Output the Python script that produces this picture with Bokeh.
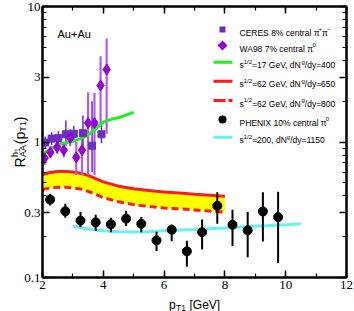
import math
from bokeh.plotting import figure
from bokeh.models import (Range1d, LinearAxis, LogAxis, FixedTicker, SingleIntervalTicker,
                          Label, BoxAnnotation, PolyAnnotation, CustomLabelingPolicy)
from bokeh.core.properties import value
from bokeh.embed import file_html
from bokeh.resources import INLINE

# ---------------- data ----------------
phenix_x = [2.25, 2.75, 3.25, 3.75, 4.25, 4.75, 5.25, 5.75, 6.25, 6.75, 7.25, 7.75, 8.25, 8.75, 9.25, 9.75]
phenix_y = [0.376, 0.308, 0.263, 0.255, 0.247, 0.272, 0.249, 0.188, 0.225, 0.156, 0.216, 0.338, 0.245, 0.223, 0.307, 0.279]
phenix_lo = [0.34, 0.276, 0.235, 0.22, 0.216, 0.24, 0.216, 0.157, 0.185, 0.12, 0.161, 0.249, 0.171, 0.141, 0.184, 0.128]
phenix_hi = [0.415, 0.35, 0.304, 0.29, 0.276, 0.309, 0.28, 0.218, 0.246, 0.187, 0.268, 0.426, 0.316, 0.304, 0.426, 0.43]

ceres_x = [2.09, 2.30, 2.52, 2.77, 3.03, 3.33, 3.63, 3.94]
ceres_y = [0.99, 1.06, 1.07, 1.14, 1.15, 1.16, 0.94, 1.14]
ceres_lo = [0.90, 0.95, 0.95, 0.94, 1.00, 0.90, 0.60, 0.98]
ceres_hi = [1.10, 1.18, 1.20, 1.44, 1.32, 1.57, 2.00, 1.32]

wa98_x = [2.07, 2.26, 2.48, 2.70, 2.91, 3.11, 3.30, 3.50, 3.71, 3.91, 4.11]
wa98_y = [0.76, 0.84, 0.915, 0.87, 1.07, 0.77, 0.87, 1.38, 1.38, 2.61, 3.43]
wa98_lo = [0.68, 0.76, 0.82, 0.77, 0.93, 0.57, 0.57, 0.57, 0.57, 1.30, 1.15]
wa98_hi = [0.85, 0.93, 1.02, 0.98, 1.24, 1.00, 1.25, 2.33, 2.30, 4.30, 5.80]

green_x = [2.0, 2.3, 2.6, 3.0, 3.25, 3.5, 3.75, 4.0, 4.25, 4.5, 4.75, 5.0]
green_y = [0.82, 0.90, 0.97, 1.01, 1.06, 1.13, 1.25, 1.40, 1.47, 1.51, 1.58, 1.66]

red_x = [2.0, 2.25, 2.5, 2.75, 3.0, 3.25, 3.5, 3.75, 4.0, 4.5, 5.0, 5.5, 6.0, 6.5, 7.0, 7.5, 8.0]
red650_y = [0.576, 0.595, 0.606, 0.607, 0.600, 0.588, 0.567, 0.537, 0.508, 0.472, 0.452, 0.438, 0.428, 0.420, 0.412, 0.405, 0.398]
red800_y = [0.446, 0.458, 0.464, 0.463, 0.458, 0.450, 0.432, 0.410, 0.388, 0.362, 0.345, 0.334, 0.326, 0.321, 0.315, 0.309, 0.304]

cyan_x = [3.0, 3.5, 4.0, 4.5, 5.0, 5.5, 6.0, 7.0, 8.0, 9.0, 10.0, 10.5]
cyan_y = [0.240, 0.228, 0.221, 0.218, 0.217, 0.218, 0.221, 0.226, 0.232, 0.239, 0.245, 0.249]

x_lo, x_hi = 2, 12
y_lo, y_hi = 0.1, 10
y_ticks = [0.1, 0.3, 1, 3, 10]
y_tick_labels = ["0.1", "0.3", "1", "3", "10"]
y_minor = [0.2, 0.4, 0.5, 0.6, 0.7, 0.8, 0.9, 2, 4, 5, 6, 7, 8, 9]

# ---------------- colours ----------------
GREEN = "#22EE22"
RED = "#FF1A1A"
CYAN = "#66F2F5"
YELLOW = "#FFFF00"
CERES_C = "#6B2FBE"
WA98_C = "#9400D3"
WA98_BAR = "#B35CE8"
FONT = "Liberation Sans"

p = figure(width=354, height=311, output_backend="svg", toolbar_location=None,
           x_range=Range1d(x_lo, x_hi), y_range=Range1d(y_lo, y_hi), y_axis_type="log",
           min_border_left=42, min_border_right=8, min_border_top=6, min_border_bottom=34)
p.grid.visible = False
p.outline_line_color = "black"
p.outline_line_width = 2

def style_axis(ax, show_labels):
    ax.axis_line_width = 2
    ax.major_tick_in = 7
    ax.major_tick_out = 0
    ax.minor_tick_in = 4
    ax.minor_tick_out = 0
    ax.major_tick_line_width = 1.5
    ax.minor_tick_line_width = 1.2
    if show_labels:
        ax.major_label_text_font = "Liberation Serif"
        ax.major_label_text_font_size = "13px"
        ax.major_label_text_color = "black"
    else:
        ax.major_label_text_font_size = "0px"
        ax.major_label_standoff = 0
        ax.major_label_policy = CustomLabelingPolicy(code="return []")

xa = p.xaxis[0]
xa.ticker = SingleIntervalTicker(interval=2, num_minor_ticks=2)
style_axis(xa, True)
xa.major_label_standoff = 3
ya = p.yaxis[0]
ya.ticker = FixedTicker(ticks=y_ticks, minor_ticks=y_minor)
ya.major_label_overrides = {t: s for t, s in zip(y_ticks, y_tick_labels)}
style_axis(ya, True)
ya.major_label_standoff = 2

top = LinearAxis(ticker=SingleIntervalTicker(interval=2, num_minor_ticks=2))
style_axis(top, False)
p.add_layout(top, "above")
right = LogAxis(ticker=FixedTicker(ticks=y_ticks, minor_ticks=y_minor))
style_axis(right, False)
p.add_layout(right, "right")

# ---------------- glyphs ----------------
p.varea(x=red_x, y1=red800_y, y2=red650_y, fill_color=YELLOW)
p.line(red_x, red650_y, line_color=RED, line_width=3)
p.line(red_x, red800_y, line_color=RED, line_width=3, line_dash="7 4")
p.line(cyan_x, cyan_y, line_color=CYAN, line_width=3)

p.segment(x0=wa98_x, y0=wa98_lo, x1=wa98_x, y1=wa98_hi, line_color=WA98_BAR, line_width=2.2)
p.segment(x0=ceres_x, y0=ceres_lo, x1=ceres_x, y1=ceres_hi, line_color=CERES_C, line_width=1.5)
p.line(green_x, green_y, line_color=GREEN, line_width=3)
p.scatter(ceres_x, ceres_y, marker="square", size=7, fill_color=CERES_C, line_color=CERES_C)
p.scatter(wa98_x, wa98_y, marker="diamond", size=11, fill_color=WA98_C, line_color=WA98_C)

p.segment(x0=phenix_x, y0=phenix_lo, x1=phenix_x, y1=phenix_hi, line_color="black", line_width=2)
p.scatter(phenix_x, phenix_y, marker="circle", size=9, fill_color="black", line_color="black")

# ---------------- text helpers ----------------
W = {' ': 278, '(': 333, ')': 333, '[': 278, ']': 278, '/': 278, '=': 584, '+': 584, ',': 278,
     '.': 278, '%': 889, '-': 333, '\u2212': 584, 'A': 667, 'C': 722, 'E': 667, 'G': 778, 'H': 722,
     'I': 278, 'N': 722, 'P': 667, 'R': 722, 'S': 667, 'T': 611, 'V': 667, 'W': 944, 'X': 667,
     'a': 556, 'c': 500, 'd': 556, 'e': 556, 'g': 556, 'h': 556, 'l': 222, 'n': 556, 'p': 556,
     'r': 333, 's': 500, 't': 278, 'u': 556, 'y': 500, '\u03c0': 580}

def tw(s, size):
    return sum(W.get(c, 556) for c in s) * size / 1000.0

def put(text, x, y, size):
    p.add_layout(Label(x=x, y=y, x_units="screen", y_units="screen", text=text,
                       text_font=FONT, text_font_size=f"{size}px", text_color="black",
                       text_baseline="alphabetic", text_align="left"))

def run(pieces, x0, y0):
    pos = 0.0
    for text, size, shift in pieces:
        put(text, x0 + pos, y0 + shift, size)
        pos += tw(text, size)

# Legend (frame-relative screen coordinates, y up from frame bottom)
LS = 8.5
SS = 6
TX = 197
centers = [248, 232, 215.3, 196.3, 177, 158, 140.3]
bl = [c - 3 for c in centers]
run([("CERES 8% central \u03c0", LS, 0), ("+", SS, 3.5), ("\u03c0", LS, 0), ("\u2212", SS, 3.5)], TX, bl[0])
run([("WA98 7% central \u03c0", LS, 0), ("0", SS, 3.5)], TX, bl[1])
run([("s", LS, 0), ("1/2", SS, 3.5), ("=17 GeV, dN", LS, 0), ("g", SS, 3.5), ("/dy=400", LS, 0)], TX, bl[2])
run([("s", LS, 0), ("1/2", SS, 3.5), ("=62 GeV, dN", LS, 0), ("g", SS, 3.5), ("/dy=650", LS, 0)], TX, bl[3])
run([("s", LS, 0), ("1/2", SS, 3.5), ("=62 GeV, dN", LS, 0), ("g", SS, 3.5), ("/dy=800", LS, 0)], TX, bl[4])
run([("PHENIX 10% central \u03c0", LS, 0), ("0", SS, 3.5)], TX, bl[5])
run([("s", LS, 0), ("1/2", SS, 3.5), ("=200, dN", LS, 0), ("g", SS, 3.5), ("/dy=1150", LS, 0)], TX, bl[6])

def box(l, r, b, t, color, radius=0):
    p.add_layout(BoxAnnotation(left=l, right=r, bottom=b, top=t,
                               left_units="screen", right_units="screen",
                               bottom_units="screen", top_units="screen",
                               fill_color=color, fill_alpha=1.0, line_color=None,
                               border_radius=radius))

c = centers
box(177, 183, c[0] - 3, c[0] + 3, CERES_C)
p.add_layout(PolyAnnotation(xs=[175, 180, 185, 180], ys=[c[1], c[1] + 5, c[1], c[1] - 5],
                            xs_units="screen", ys_units="screen",
                            fill_color=WA98_C, fill_alpha=1.0, line_color=None))
box(171, 190, c[2] - 1.5, c[2] + 1.5, GREEN)
box(171, 190, c[3] - 1.5, c[3] + 1.5, RED)
box(171, 183, c[4] - 1.5, c[4] + 1.5, RED)
box(186, 190, c[4] - 1.5, c[4] + 1.5, RED)
box(176, 184, c[5] - 4, c[5] + 4, "black", radius=4)
box(171, 190, c[6] - 1.5, c[6] + 1.5, CYAN)

put("Au+Au", 15, 244, 11)

# ---------------- axis titles (overlay-level text, anchored to the frame) ----------------
# x title p_T1 [GeV], centred under the frame
xc = (x_lo + x_hi) / 2
x_txt = ["p", "T1", "[GeV]"]
x_dx = [-25.4, -18.5, -5.0]
x_dy = [27, 30, 27]
x_sz = ["12px", "8.5px", "12px"]
p.text(x=[xc] * 3, y=[y_lo] * 3, text=x_txt, x_offset=x_dx, y_offset=x_dy, text_font_size=x_sz,
       text_font=value(FONT), text_color="black", text_baseline="alphabetic", text_align="left",
       level="overlay")

# y title R^{h_1}_{AA}(p_T1), rotated, centred beside the frame
yc = math.sqrt(y_lo * y_hi)
bx = -23.0
half = 25.6
y_txt = ["R", "h", "1", "AA", "(p", "T1", ")"]
y_along = [0, 10.6, 15.6, 10.6, 23.4, 35.8, 46.4]
y_perp = [0, 5, 2.5, -3.5, 0, -3.5, 0]
y_sz = ["14px", "9px", "6.5px", "9px", "14px", "9px", "14px"]
p.text(x=[x_lo] * 7, y=[yc] * 7, text=y_txt,
       x_offset=[bx - s for s in y_perp], y_offset=[half - a for a in y_along],
       text_font_size=y_sz, angle=math.pi / 2,
       text_font=value(FONT), text_color="black", text_baseline="alphabetic", text_align="left",
       level="overlay")

open("out.html", "w").write(file_html(p, INLINE))
